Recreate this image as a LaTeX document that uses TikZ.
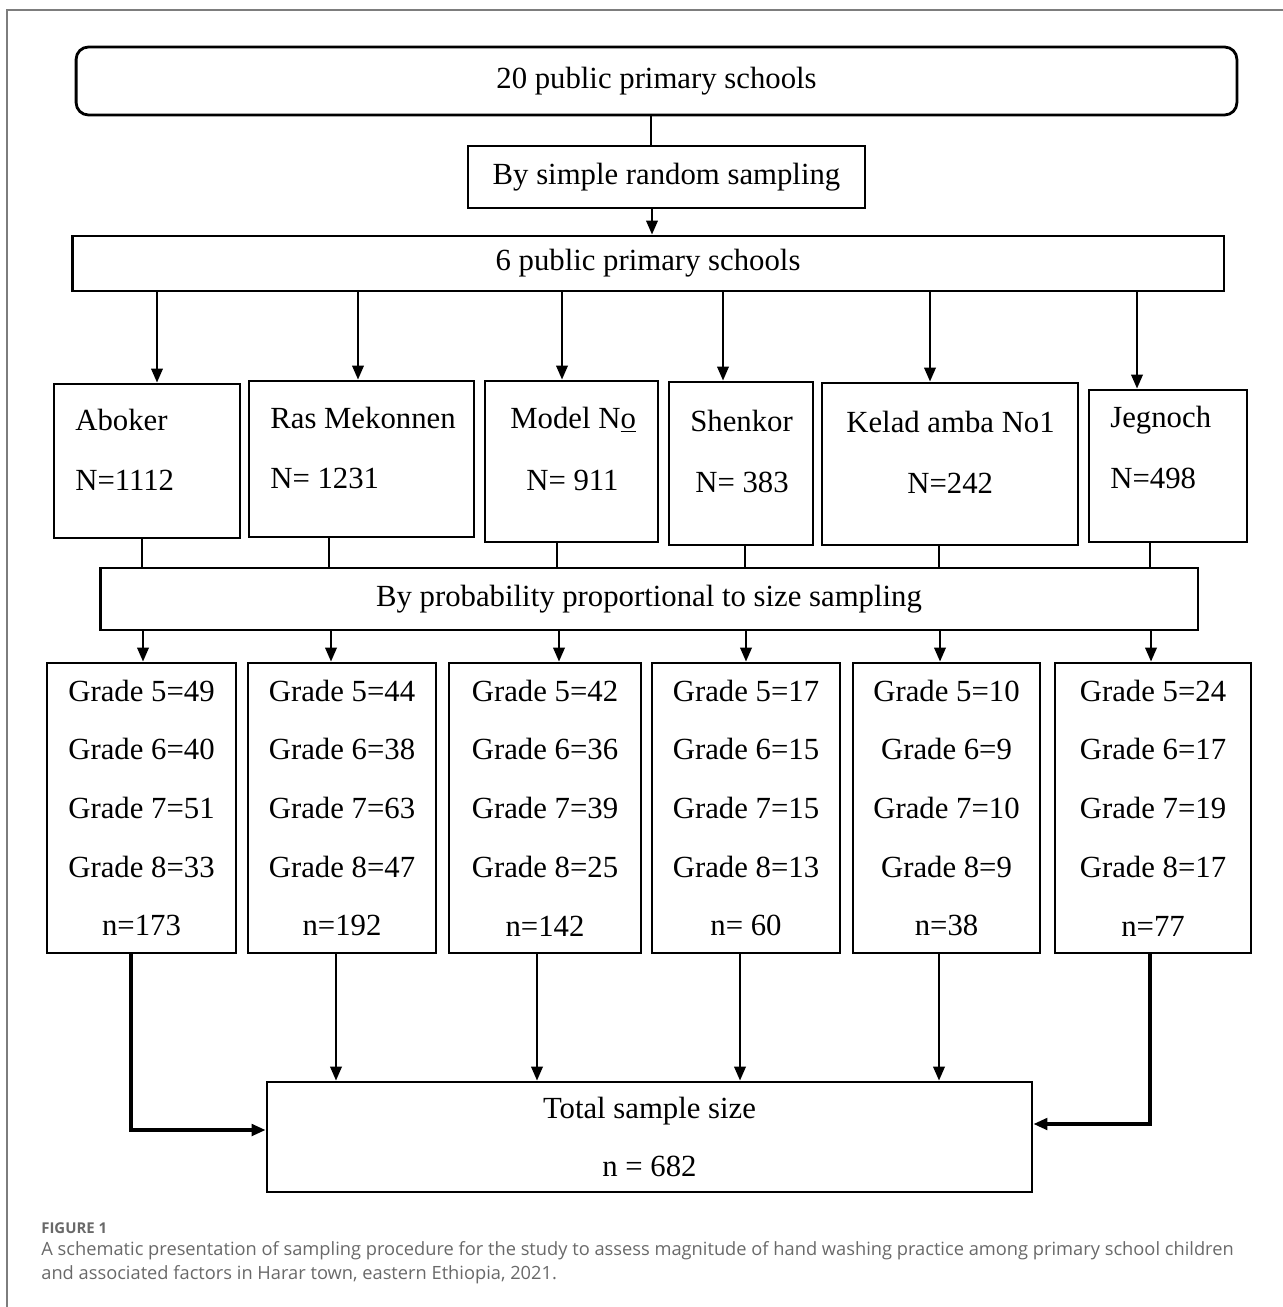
\documentclass[tikz,border=0pt]{standalone}
\usepackage{fontspec}
\setmainfont{Liberation Serif}
\newfontfamily\capfont{Open Sans}
\usetikzlibrary{positioning}
\usetikzlibrary{arrows.meta}

\definecolor{framegray}{RGB}{125,125,125}
\definecolor{capgray}{RGB}{105,105,105}

\tikzset{
	box/.style = {draw = black, line width = 1.6pt, inner sep = 0pt, font = \fontsize{17.5}{21}\selectfont},
	gradebox/.style = {box, align = center, minimum height = 5.8cm, font = \fontsize{17.5}{33.4}\selectfont},
	lbl/.style = {inner sep = 0pt, font = \fontsize{17.5}{21}\selectfont},
	arr/.style = {black, line width = 1.4pt, -{Triangle[length = 8pt, width = 6.5pt]}},
	link/.style = {black, line width = 1.4pt}
}

\begin{document}
\begin{tikzpicture}[x = 0.02cm, y = -0.02cm]
	\useasboundingbox (0, 0) rectangle (1283, 1307);
	\draw [framegray, line width = 0.8pt] (7, 1307) -- (7, 10) -- (1283, 10);

	\node [box, rounded corners = 7pt, minimum width = 23.22cm, minimum height = 1.36cm] (top) at (656.5, 81) {20 public primary schools};
	\node [box, minimum width = 7.94cm, minimum height = 1.24cm] (srs) at (666.5, 177) {By simple random sampling};
	\node [box, minimum width = 23.04cm, minimum height = 1.10cm] (six) at (648, 263.5) {6 public primary schools};

	\node [box, minimum width = 3.72cm, minimum height = 3.08cm] (s1) at (147, 461) {};
	\node [box, minimum width = 4.50cm, minimum height = 3.12cm] (s2) at (361.5, 459) {};
	\node [box, minimum width = 3.46cm, minimum height = 3.22cm] (s3) at (571.5, 461.5) {};
	\node [box, minimum width = 2.88cm, minimum height = 3.26cm] (s4) at (741, 463.5) {};
	\node [box, minimum width = 5.12cm, minimum height = 3.24cm] (s5) at (950, 464) {};
	\node [box, minimum width = 3.16cm, minimum height = 3.04cm] (s6) at (1168, 466) {};

	\node [lbl, anchor = west] (s1name) at (75, 420) {Aboker};
	\node [lbl, anchor = west] (s1size) at (75, 480) {N=1112};
	\node [lbl, anchor = west] (s2name) at (270, 418) {Ras Mekonnen};
	\node [lbl, anchor = west] (s2size) at (270, 478) {N= 1231};
	\node [lbl, anchor = west] (s3name) at (510, 420) {Model N\underline{o}};
	\node [lbl, anchor = west] (s3size) at (526, 480) {N= 911};
	\node [lbl, anchor = west] (s4name) at (690, 421) {Shenkor};
	\node [lbl, anchor = west] (s4size) at (695, 482) {N= 383};
	\node [lbl, anchor = west] (s5name) at (846, 422) {Kelad amba No1};
	\node [lbl, anchor = west] (s5size) at (907, 483) {N=242};
	\node [lbl, anchor = west] (s6name) at (1110, 420) {Jegnoch};
	\node [lbl, anchor = west] (s6size) at (1110, 478) {N=498};

	\node [box, minimum width = 21.96cm, minimum height = 1.24cm] (pps) at (649, 599) {By probability proportional to size sampling};

	\foreach \i/\cx/\w/\a/\b/\c/\d/\n in {1/141.5/3.78/49/40/51/33/n=173, 2/342/3.76/44/38/63/47/n=192, 3/545/3.84/42/36/39/25/n=142, 4/746/3.76/17/15/15/13/n= 60, 5/946.5/3.74/10/9/10/9/n=38, 6/1153/3.92/24/17/19/17/n=77}
		\node [gradebox, minimum width = \w cm] (g\i) at (\cx, 808) {Grade 5=\a\\Grade 6=\b\\Grade 7=\c\\Grade 8=\d\\\n};

	\node [box, align = center, minimum width = 15.30cm, minimum height = 2.20cm, font = \fontsize{17.5}{33.4}\selectfont] (total) at (649.5, 1137) {Total sample size\\n = 682};

	\draw [link] (651,0 |- top.south) -- (651,0 |- srs.north);
	\draw [arr] (652,0 |- srs.south) -- (652,0 |- six.north);
	\foreach \s/\x in {s1/157, s2/358, s3/562, s4/723, s5/930, s6/1137}
		\draw [arr] (\x,0 |- six.south) -- (\x,0 |- \s.north);
	\foreach \s/\x in {s1/142, s2/329, s3/557, s4/745, s5/939, s6/1150}
		\draw [link] (\x,0 |- \s.south) -- (\x,0 |- pps.north);
	\foreach \g/\x in {g1/143, g2/331, g3/559, g4/746, g5/940, g6/1151}
		\draw [arr] (\x,0 |- pps.south) -- (\x,0 |- \g.north);
	\foreach \g/\x in {g2/336, g3/537, g4/740, g5/939}
		\draw [arr] (\x,0 |- \g.south) -- (\x,0 |- total.north);
	\draw [arr, line width = 2pt] (131,0 |- g1.south) |- (total.west |- 0,1130);
	\draw [arr, line width = 2pt] (1150,0 |- g6.south) |- (total.east |- 0,1124);

	\node [inner sep = 0pt, anchor = west, text = capgray, font = \capfont\bfseries\fontsize{8.5}{10}\selectfont] (fig) at (41, 1228) {FIGURE 1};
	\node [inner sep = 0pt, anchor = north west, align = left, text = capgray, font = \capfont\fontsize{10.4}{13.6}\selectfont] (cap) at (41, 1241) {A schematic presentation of sampling procedure for the study to assess magnitude of hand washing practice among primary school children\\and associated factors in Harar town, eastern Ethiopia, 2021.};
\end{tikzpicture}
\end{document}
